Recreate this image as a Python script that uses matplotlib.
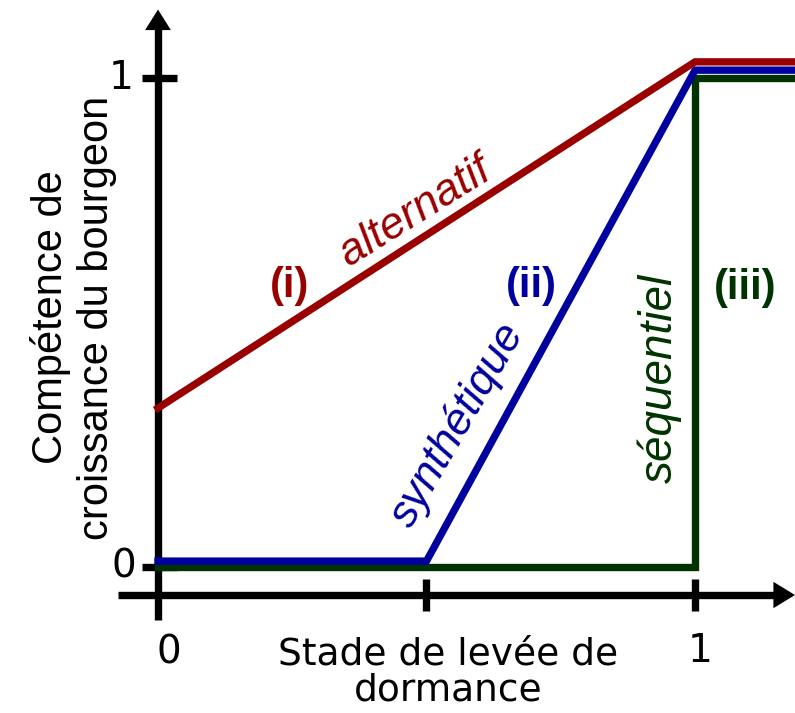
import numpy as np
import matplotlib
matplotlib.use("Agg")
import matplotlib.pyplot as plt

plt.rcParams['font.family'] = ['DejaVu Sans']

# data
stade = [0.0, 1.0, 1.19]
alternatif = [0.325, 1.033, 1.033]
synthetique_x = [0.0, 0.5, 1.0, 1.19]
synthetique = [0.012, 0.012, 1.016, 1.016]
sequentiel_x = [0.0, 1.0, 1.0, 1.19]
sequentiel = [0.0, 0.0, 1.0, 1.0]

x_ticks = [0.5, 1.0]
y_ticks = [0.0, 1.0]

red = "#990000"
blue = "#00009e"
green = "#003300"

arial = ['Liberation Sans', 'DejaVu Sans']
narrow = ['Liberation Sans Narrow', 'Liberation Sans', 'DejaVu Sans']

fig = plt.figure(figsize=(7.95, 7.13), dpi=100)
ax = fig.add_axes([0, 0, 1, 1])
ax.set_xlim(-0.2942, 1.1862)
ax.set_ylim(-0.2986, 1.1595)
ax.axis("off")

lw = 5.3
# axes with arrows
ax.plot([-0.0745, 1.15], [-0.0573, -0.0573], color="k", lw=lw, solid_capstyle="butt")
ax.plot([0, 0], [-0.108, 1.10], color="k", lw=lw, solid_capstyle="butt")
ax.fill([1.146, 1.1862, 1.146], [-0.0573 - 0.027, -0.0573, -0.0573 + 0.027], color="k", lw=0)
ax.fill([-0.024, 0, 0.024], [1.098, 1.140, 1.098], color="k", lw=0)

# ticks
for t in x_ticks:
    ax.plot([t, t], [-0.0573 - 0.033, -0.0573 + 0.033], color="k", lw=lw, solid_capstyle="butt")
for t in y_ticks:
    ax.plot([-0.03, 0.035], [t, t], color="k", lw=lw, solid_capstyle="butt")

# curves
ax.plot(sequentiel_x, sequentiel, color=green, lw=lw, solid_joinstyle="miter")
ax.plot(synthetique_x, synthetique, color=blue, lw=lw, solid_joinstyle="miter")
ax.plot(stade, alternatif, color=red, lw=lw, solid_joinstyle="miter")

fs = 28
ax.text(-0.045, 1.0, "1", fontsize=fs, ha="right", va="center")
ax.text(-0.04, 0.0, "0", fontsize=fs, ha="right", va="center")
ax.text(0.02, -0.175, "0", fontsize=fs, ha="center", va="center")
ax.text(1.01, -0.172, "1", fontsize=fs, ha="center", va="center")

ax.text(0.54, -0.215, "Stade de levée de\ndormance", fontsize=27, ha="center",
        va="center", linespacing=1.0)
ax.text(-0.157, 0.51, "Compétence de\ncroissance du bourgeon", fontsize=30, ha="center",
        va="center", rotation=90, linespacing=1.2, family=narrow)

ax.text(0.245, 0.575, "(i)", fontsize=30, color=red, fontweight="bold", ha="center",
        va="center", family=arial)
ax.text(0.696, 0.575, "(ii)", fontsize=30, color=blue, fontweight="bold", ha="center",
        va="center", family=arial)
ax.text(1.093, 0.57, "(iii)", fontsize=30, color=green, fontweight="bold", ha="center",
        va="center", family=arial)

ax.text(0.479, 0.726, "alternatif", fontsize=32, color=red, style="italic",
        ha="center", va="center", rotation=32, family=arial)
ax.text(0.558, 0.29, "synthétique", fontsize=32, color=blue, style="italic",
        ha="center", va="center", rotation=60, family=arial)
ax.text(0.935, 0.385, "séquentiel", fontsize=33, color=green, style="italic",
        ha="center", va="center", rotation=90, family=arial)

fig.savefig("out.png", dpi=100)
